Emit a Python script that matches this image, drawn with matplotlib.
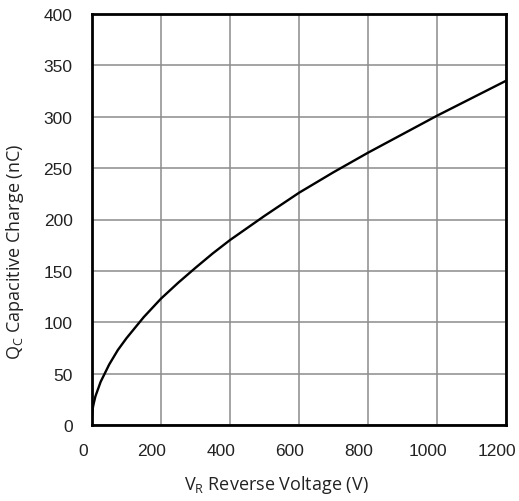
import matplotlib
matplotlib.use('Agg')
import matplotlib.pyplot as plt
import matplotlib.transforms as mtransforms

# reverse voltage (V) vs capacitive charge (nC)
voltage = [0, 2, 5, 10, 25, 50, 75, 100, 150, 200, 250, 300, 350, 400,
           500, 600, 700, 800, 900, 1000, 1100, 1200]
charge = [8, 16, 21, 28, 42, 59, 73, 84.5, 105, 123, 138.5, 153, 167, 180,
          203.5, 226, 246, 265, 283, 301, 318, 335]

xticks = [0, 200, 400, 600, 800, 1000, 1200]
yticks = [0, 50, 100, 150, 200, 250, 300, 350, 400]

fig = plt.figure(figsize=(5.19, 5.02), dpi=100)
ax = fig.add_axes([92 / 519, 1 - 426 / 502, 414 / 519, 411 / 502])

ax.plot(voltage, charge, color='black', lw=1.7, solid_capstyle='round',
        solid_joinstyle='round', zorder=3)

ax.set_xlim(0, 1200)
ax.set_ylim(0, 400)
ax.set_xticks(xticks)
ax.set_yticks(yticks)
ax.grid(True, color='#8c8c8c', lw=1.1)
ax.set_axisbelow(True)
for s in ax.spines.values():
    s.set_linewidth(2.0)
    s.set_color('black')

tick_font = dict(family='Liberation Sans', size=12.5, color='#222222')
ax.tick_params(length=0, pad=14)
ax.set_xticklabels([str(t) for t in xticks], **tick_font)
ax.set_yticklabels([str(t) for t in yticks], **tick_font)
ax.tick_params(axis='x', pad=13)

# x tick labels sit a bit left of their grid lines in the original
shift = mtransforms.ScaledTranslation(-9 / 100, 0, fig.dpi_scale_trans)
for lab in ax.get_xticklabels():
    lab.set_transform(lab.get_transform() + shift)

label_font = dict(family='Open Sans', size=13, color='#222222')
fig.text(276 / 519, 1 - 485 / 502, r'V$_\mathregular{R}$ Reverse Voltage (V)',
         ha='center', va='center', **label_font)
fig.text(15 / 519, 1 - 252 / 502, r'Q$_\mathregular{C}$ Capacitive Charge (nC)',
         ha='center', va='center', rotation=90, **label_font)

fig.savefig('out.png', dpi=100)
